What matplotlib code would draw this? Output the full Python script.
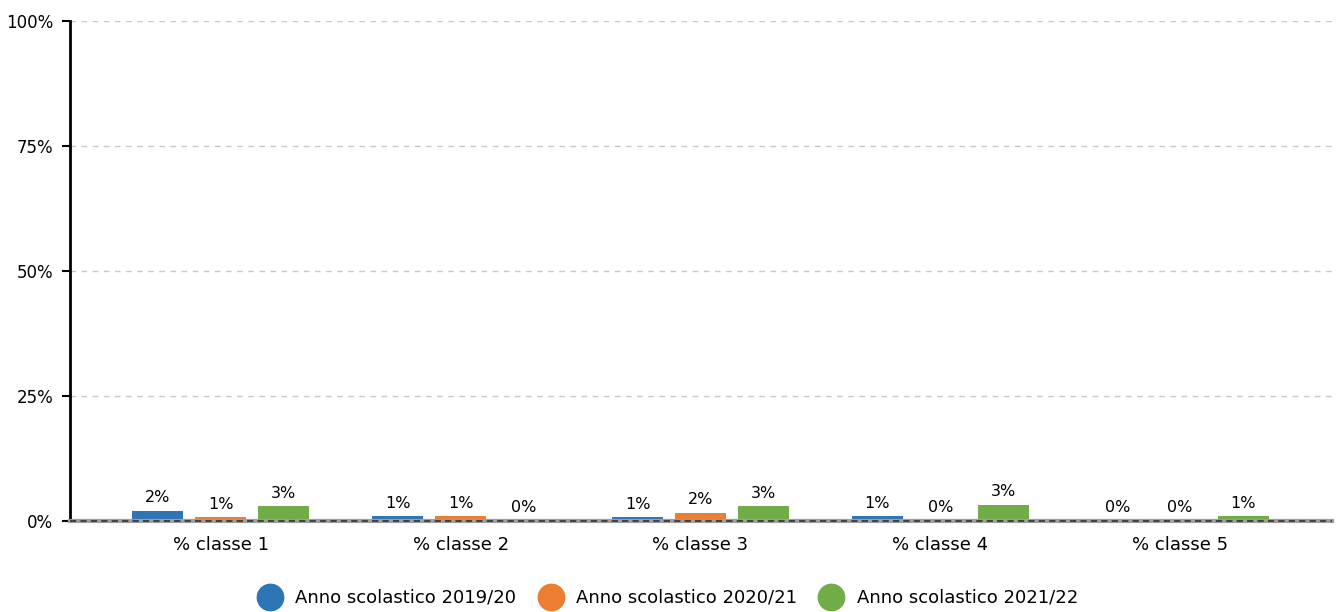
import numpy as np
import matplotlib.pyplot as plt

categories = ["% classe 1", "% classe 2", "% classe 3", "% classe 4", "% classe 5"]
series_names = ["Anno scolastico 2019/20", "Anno scolastico 2020/21", "Anno scolastico 2021/22"]
vals_2019 = [2.1, 1.0, 0.8, 1.0, 0.2]
vals_2020 = [0.8, 1.0, 1.7, 0.2, 0.2]
vals_2021 = [3.1, 0.2, 3.0, 3.3, 1.0]
colors = ["#2e75b6", "#ed7d31", "#70ad47"]

fig = plt.figure(figsize=(13.37, 6.12), dpi=100)
ax = fig.add_axes([70 / 1337, 1 - 521 / 612, 1262 / 1337, 500 / 612])

x = np.arange(len(categories))
width = 0.2125
offset = 0.2625
for i, (vals, name) in enumerate(zip([vals_2019, vals_2020, vals_2021], series_names)):
    pos = x + (i - 1) * offset
    ax.bar(pos, vals, width, color=colors[i], label=name, zorder=3)
    for p, v in zip(pos, vals):
        ax.text(p, v + 1.0, f"{v:.0f}%", ha="center", va="bottom", fontsize=11.5)

ax.set_ylim(0, 100)
ax.set_xlim(-0.629, 4.633)
ax.set_yticks([0, 25, 50, 75, 100])
ax.set_yticklabels(["0%", "25%", "50%", "75%", "100%"], fontsize=12)
ax.set_xticks(x)
ax.set_xticklabels(categories, fontsize=13)
ax.tick_params(axis="x", length=0, pad=11)
ax.tick_params(axis="y", length=6, width=1.5, pad=6)
ax.yaxis.grid(True, linestyle=(0, (4, 4)), color="#c8c8c8", lw=1)
ax.set_axisbelow(True)
for s in ["top", "right", "bottom"]:
    ax.spines[s].set_visible(False)
ax.spines["left"].set_linewidth(2)
ax.axhline(0, color="#a0a0a0", lw=3, zorder=4, clip_on=False)
ax.axhline(0, color="#444444", lw=1.5, linestyle=(0, (3, 2)), zorder=5, clip_on=False)

handles = [plt.Line2D([], [], marker="o", ls="", color=c, markersize=19) for c in colors]
fig.legend(handles, series_names, loc="center", bbox_to_anchor=(665 / 1337, 1 - 598 / 612),
           ncol=3, frameon=False, fontsize=13, handletextpad=0.4, columnspacing=0.9)

fig.savefig("out.png", dpi=100)
